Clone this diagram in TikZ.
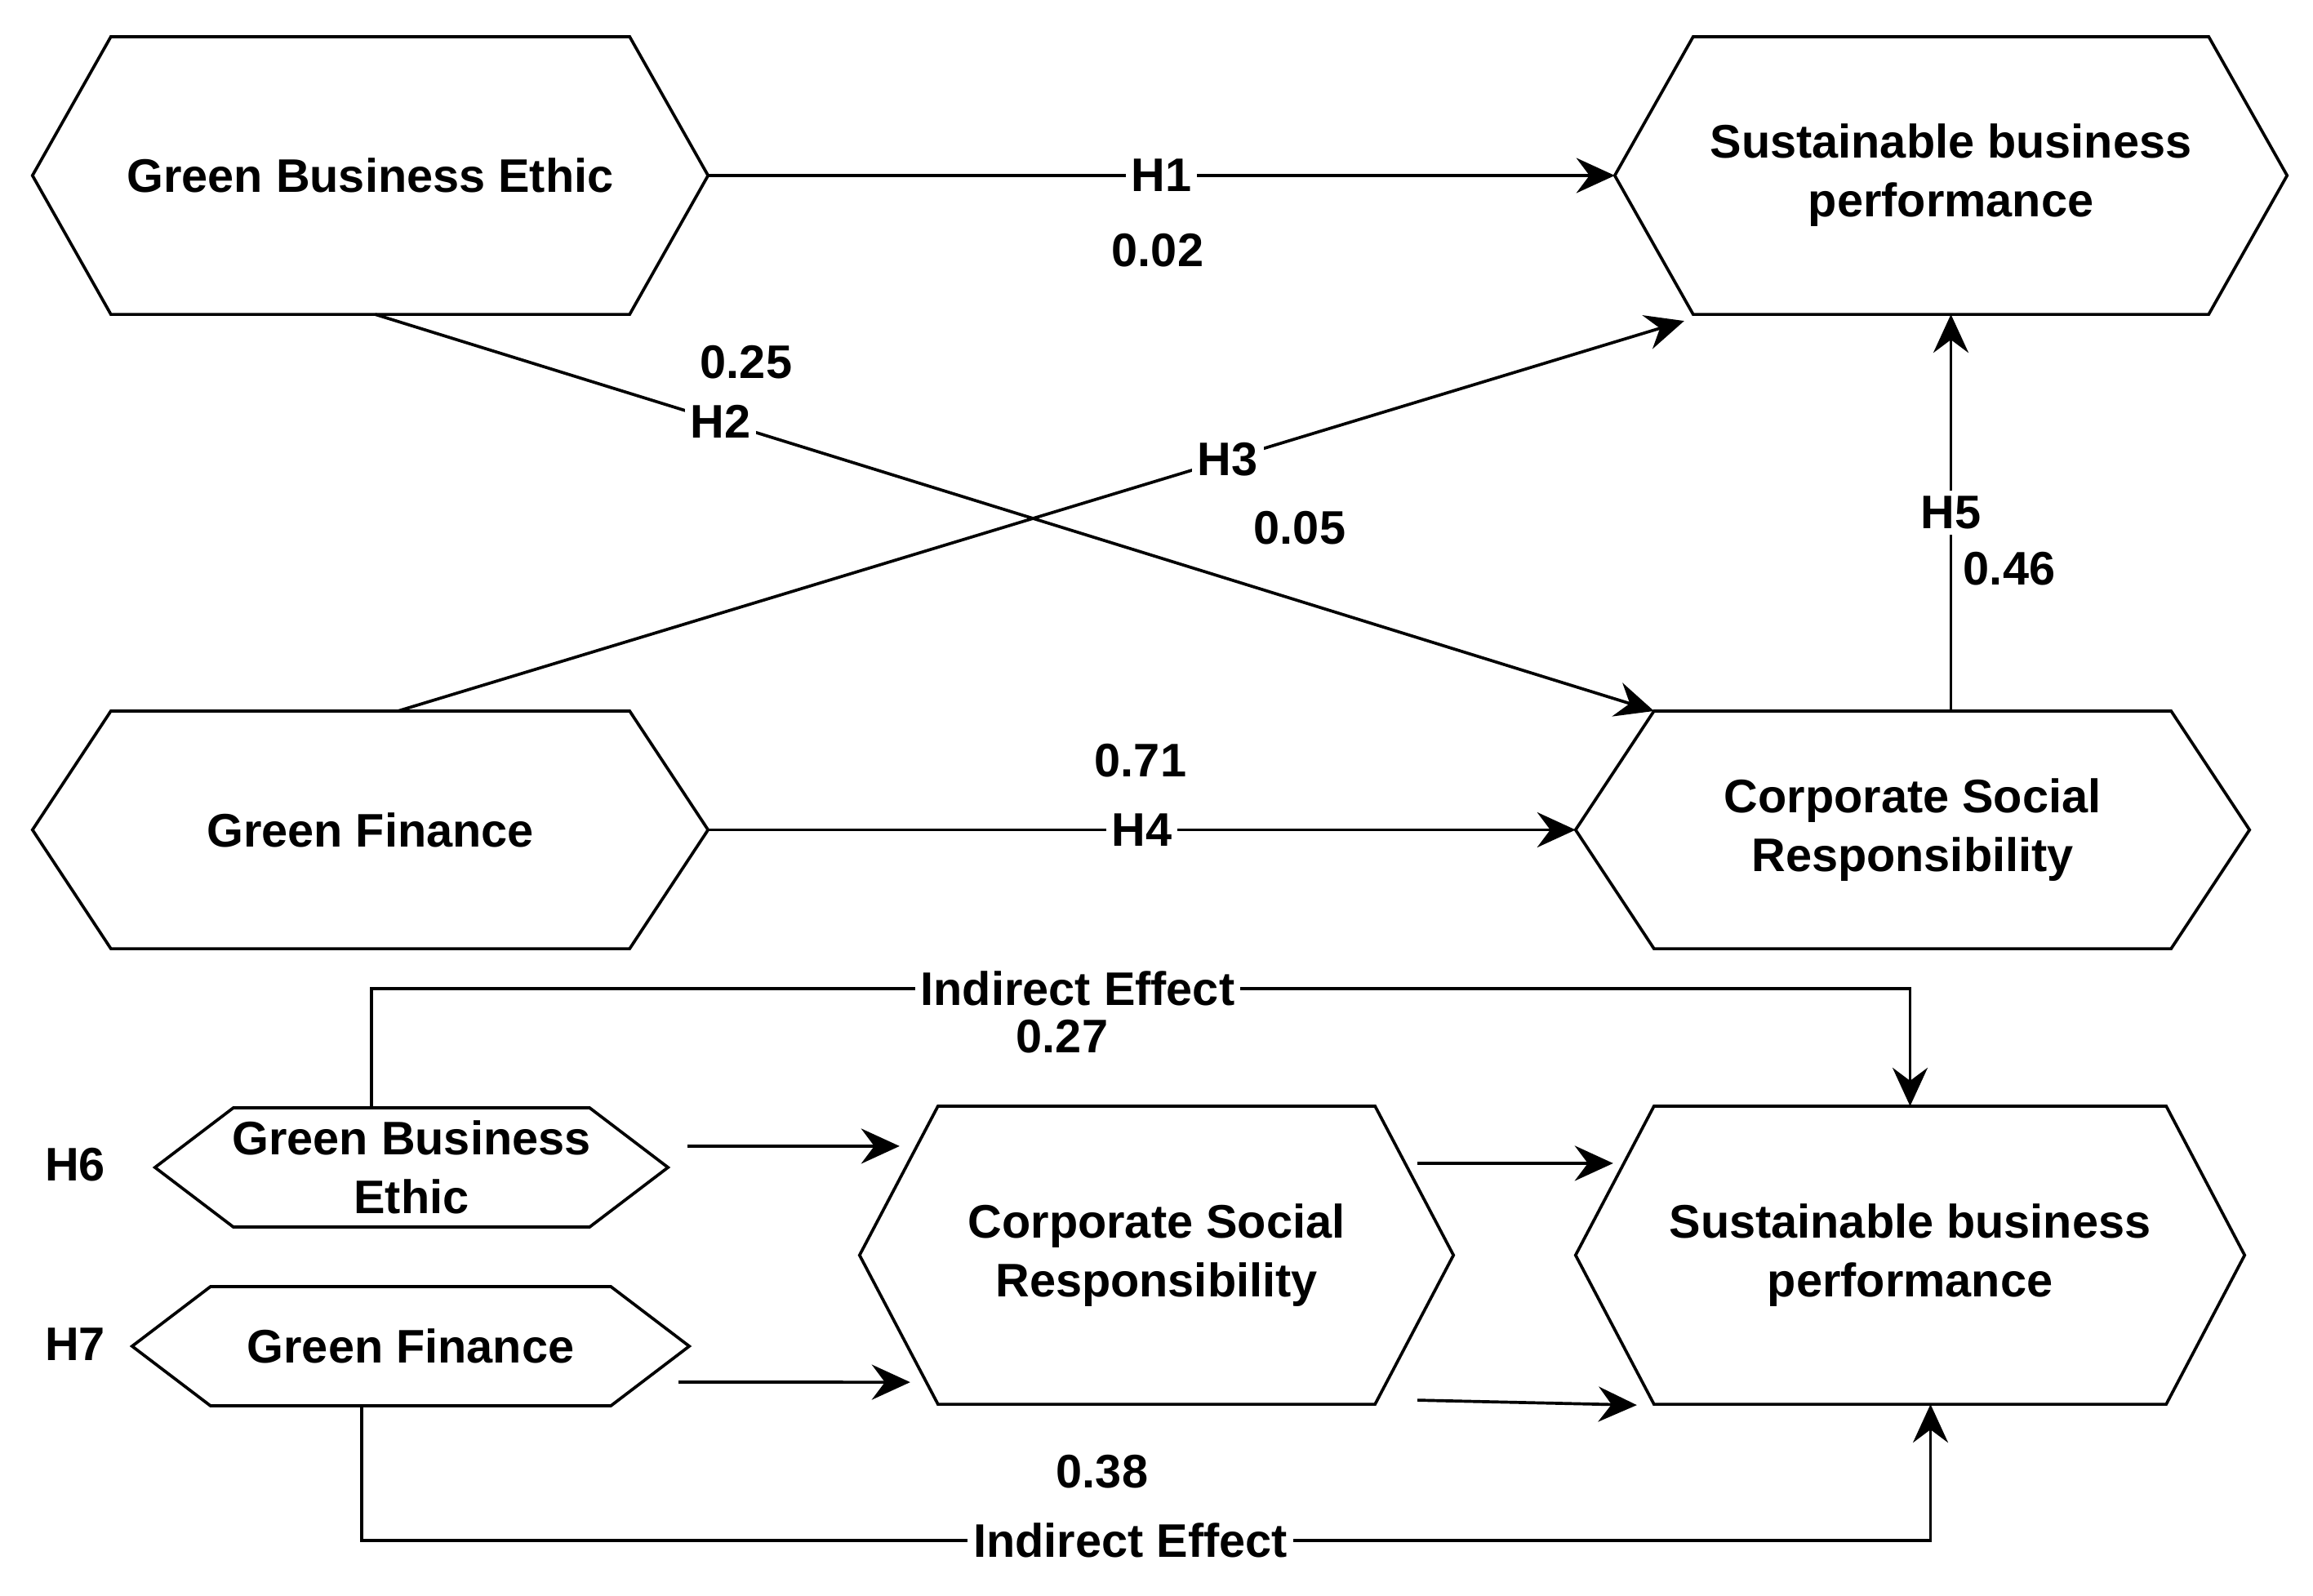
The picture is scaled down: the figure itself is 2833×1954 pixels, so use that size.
\documentclass[tikz,border=0pt]{standalone}
\usepackage{fontspec}
\setmainfont{Liberation Sans}
\usetikzlibrary{arrows.meta}

\tikzset{
	hexbox/.style 2 args={minimum width=#1cm, minimum height=#2cm, inner sep=0pt, outer sep=0pt, align=center},
	link/.style={->, line width=1.05pt},
	tag/.style={fill=white, inner sep=2pt},
	coef/.style={inner sep=1pt}
}

\begin{document}
\begin{tikzpicture}[x=0.01cm, y=-0.01cm,
	>={Stealth[length=4.7mm,width=4.3mm,inset=1.6mm]},
	every node/.style={font=\fontsize{16.4}{20.5}\selectfont\bfseries}]
	\useasboundingbox (0,0) rectangle (2833,1954);

	% Upper model: direct paths
	\node[hexbox={8.27}{3.40}] (gbeA) at (453.5,215) {Green Business Ethic};
	\node[hexbox={8.23}{3.40}] (sbpA) at (2389.5,215) {Sustainable business\\performance};
	\node[hexbox={8.27}{2.91}] (gfA) at (453.5,1016.5) {Green Finance};
	\node[hexbox={8.25}{2.91}] (csrA) at (2342.5,1016.5) {Corporate Social\\Responsibility};

	% Lower model: mediation
	\node[hexbox={6.28}{1.46}] (gbeB) at (504,1430) {Green Business\\Ethic};
	\node[hexbox={6.82}{1.46}] (gfB) at (503,1649) {Green Finance};
	\node[hexbox={7.27}{3.65}] (csrB) at (1416.5,1537.5) {Corporate Social\\Responsibility};
	\node[hexbox={8.19}{3.65}] (sbpB) at (2339.5,1537.5) {Sustainable business\\performance};

	% hexagon outlines
	\foreach \n in {gbeA,sbpA,gfA,csrA,gbeB,gfB,csrB,sbpB}
		\draw[line width=1.05pt] (\n.west) -- ([xshift=0.96cm]\n.north west) -- ([xshift=-0.96cm]\n.north east)
			-- (\n.east) -- ([xshift=-0.96cm]\n.south east) -- ([xshift=0.96cm]\n.south west) -- cycle;

	% H1 -- H5
	\draw[link] (gbeA.east) -- node[tag]{H1} (sbpA.west);
	\draw[link] ([xshift=0.06cm]gbeA.south) -- node[tag,pos=0.27]{H2} ([xshift=0.96cm]csrA.north west);
	\draw[link] ([xshift=0.34cm]gfA.north) -- node[tag,pos=0.645]{H3} ([xshift=0.85cm,yshift=-0.08cm]sbpA.south west);
	\draw[link] (gfA.east) -- node[tag]{H4} (csrA.west);
	\draw[link] (csrA.north -| sbpA.south) -- node[tag]{H5} (sbpA.south);

	\node[coef] (bHone) at (1418,307) {0.02};
	\node[coef] (bHtwo) at (914,444) {0.25};
	\node[coef] (bHthree) at (1592,647) {0.05};
	\node[coef] (bHfour) at (1397,932) {0.71};
	\node[coef] (bHfive) at (2461,697) {0.46};

	% H6 and H7: indirect effects
	\node (hSix) at (92,1427) {H6};
	\node (hSeven) at (92,1647) {H7};

	\coordinate (topbend) at (455,1211);
	\coordinate (botbend) at (443,1887);
	\draw[link] (gbeB.north -| topbend) -- (topbend)
		-- node[tag,pos=0.459]{Indirect Effect} (topbend -| sbpB.north) -- (sbpB.north);
	\draw[link] (gfB.south -| botbend) -- (botbend)
		-- node[tag,pos=0.49]{Indirect Effect} ([xshift=0.25cm]sbpB.south |- botbend) -- ([xshift=0.25cm]sbpB.south);
	\node[coef] (bHsix) at (1301,1270) {0.27};
	\node[coef] (bHseven) at (1350,1803) {0.38};

	\draw[link] ([xshift=0.24cm,yshift=0.26cm]gbeB.east) -- ([xshift=0.49cm,yshift=1.335cm]csrB.west);
	\draw[link] ([xshift=-0.13cm,yshift=-0.44cm]gfB.east) -- ([xshift=0.62cm,yshift=-1.555cm]csrB.west);
	\draw[link] ([xshift=-0.44cm,yshift=1.125cm]csrB.east) -- ([xshift=0.46cm,yshift=1.125cm]sbpB.west);
	\draw[link] ([xshift=-0.44cm,yshift=-1.775cm]csrB.east) -- ([xshift=0.75cm,yshift=-1.835cm]sbpB.west);
\end{tikzpicture}
\end{document}
